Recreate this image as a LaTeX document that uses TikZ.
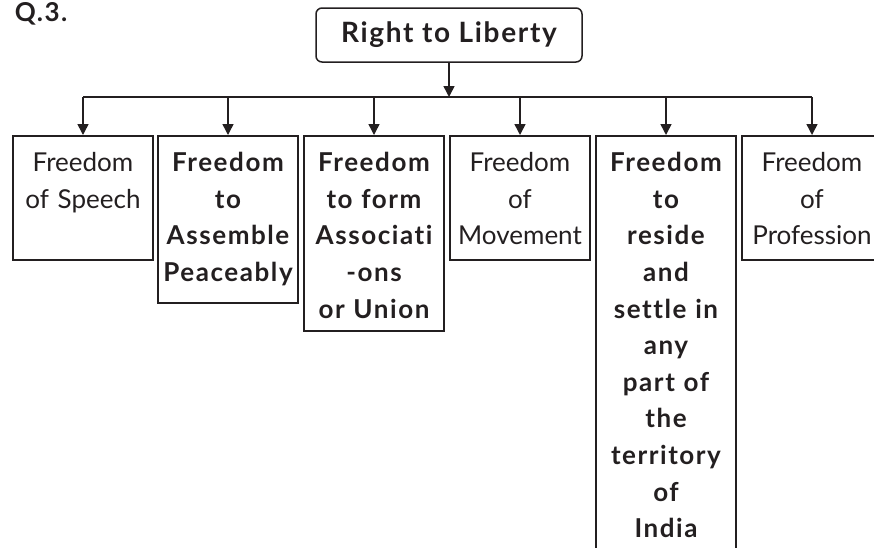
\documentclass[tikz,border=0pt]{standalone}
\usepackage{fontspec}
\setmainfont{Lato}[Ligatures=NoCommon, BoldFeatures={LetterSpace=6}]
\usetikzlibrary{arrows.meta}
\definecolor{ink}{HTML}{231F20}

\begin{document}
\begin{tikzpicture}[x=1pt, y=-1pt, line width=1.5pt, draw=ink, text=ink,
  arr/.style={-{Triangle[width=11pt,length=11pt]}},
  box/.style={draw, anchor=north, text width=134pt, align=center,
    inner xsep=3pt, inner ysep=14pt, text height=22pt,
    font=\fontsize{26}{36.6}\selectfont},
  boldbox/.style={box, font=\fontsize{26}{36.6}\selectfont\bfseries}]

  \useasboundingbox (0,0) rectangle (874,547);
  \clip (0,0) rectangle (874,547);

  % Heading
  \node[anchor=base west, inner sep=0pt,
    font=\fontsize{26}{30}\selectfont\bfseries\addfontfeature{LetterSpace=9}] (q) at (14,21) {Q.3.};
  \node[draw, rounded corners=6pt, minimum width=266pt, minimum height=54pt,
    font=\fontsize{28}{30}\selectfont\bfseries\addfontfeature{LetterSpace=14}] (top) at (449,35) {Right to Liberty};

  % Boxes
  \node[box, text depth=74pt] (b1) at (83,135) {Freedom\\of Speech};
  \node[boldbox, text depth=117pt] (b2) at (228,135) {Freedom\\to\\Assemble\\Peaceably};
  \node[boldbox, text depth=145pt] (b3) at (374,135) {Freedom\\to form\\Associati\\-ons\\or Union};
  \node[box, text depth=74pt] (b4) at (520,135) {Freedom\\of\\Movement};
  \node[boldbox, text depth=400pt] (b5) at (666,135) {Freedom\\to\\reside\\and\\settle in\\any\\part of\\the\\territory\\of\\India};
  \node[box, text depth=74pt] (b6) at (812,135) {Freedom\\of\\Profession};

  % Connectors
  \coordinate (bus) at (449,97);
  \draw[arr] (top) -- (bus);
  \draw (b1.north |- bus) -- (b6.north |- bus);
  \foreach \i in {1,...,6} {
    \draw[arr] (b\i.north |- bus) -- (b\i.north);
  }

\end{tikzpicture}
\end{document}
